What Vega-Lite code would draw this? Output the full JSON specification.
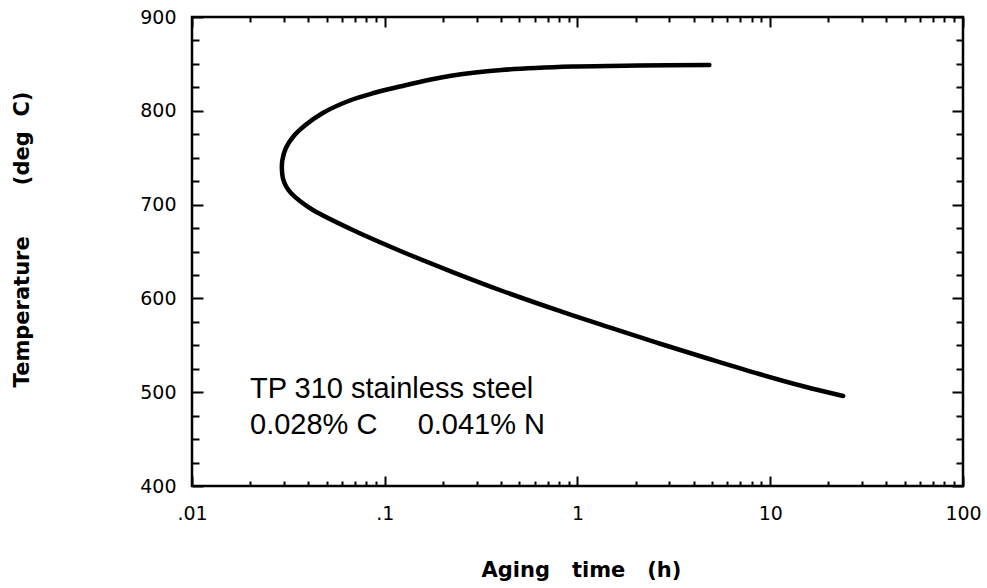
{
  "$schema": "https://vega.github.io/schema/vega-lite/v6.json",
  "width": 771,
  "height": 469,
  "autosize": {"type": "none"},
  "padding": {"left": 192, "top": 17, "right": 24, "bottom": 102},
  "background": "white",
  "config": {
    "view": {"stroke": "black", "strokeWidth": 2.5},
    "axis": {
      "grid": false,
      "domain": false,
      "tickColor": "black",
      "tickWidth": 2,
      "labelColor": "black",
      "labelFont": "DejaVu Sans",
      "labelFontSize": 19,
      "titleColor": "black",
      "titleFont": "DejaVu Sans",
      "titleFontWeight": "bold",
      "titleFontSize": 21
    }
  },
  "data": {
    "values": [
      {"i": 1, "t": 4.83, "T": 848.8},
      {"i": 2, "t": 2.09, "T": 848.3},
      {"i": 3, "t": 0.942, "T": 847.2},
      {"i": 4, "t": 0.404, "T": 843.5},
      {"i": 5, "t": 0.217, "T": 837.1},
      {"i": 6, "t": 0.1197, "T": 825.9},
      {"i": 7, "t": 0.0887, "T": 819.2},
      {"i": 8, "t": 0.0659, "T": 811.0},
      {"i": 9, "t": 0.0477, "T": 797.7},
      {"i": 10, "t": 0.0385, "T": 784.3},
      {"i": 11, "t": 0.0334, "T": 772.1},
      {"i": 12, "t": 0.0307, "T": 760.3},
      {"i": 13, "t": 0.02943, "T": 747.5},
      {"i": 14, "t": 0.02925, "T": 739.0},
      {"i": 15, "t": 0.0296, "T": 728.4},
      {"i": 16, "t": 0.0307, "T": 719.8},
      {"i": 17, "t": 0.0326, "T": 712.4},
      {"i": 18, "t": 0.0363, "T": 703.8},
      {"i": 19, "t": 0.0424, "T": 694.2},
      {"i": 20, "t": 0.0682, "T": 672.9},
      {"i": 21, "t": 0.124, "T": 649.5},
      {"i": 22, "t": 0.225, "T": 628.1},
      {"i": 23, "t": 0.408, "T": 607.9},
      {"i": 24, "t": 0.807, "T": 586.6},
      {"i": 25, "t": 1.466, "T": 569.0},
      {"i": 26, "t": 2.66, "T": 551.9},
      {"i": 27, "t": 4.83, "T": 535.4},
      {"i": 28, "t": 8.77, "T": 519.4},
      {"i": 29, "t": 15.0, "T": 506.1},
      {"i": 30, "t": 23.9, "T": 496.0}
    ]
  },
  "resolve": {
    "scale": {"x": "shared", "y": "shared"},
    "axis": {"x": "independent", "y": "independent"}
  },
  "layer": [
    {
      "mark": {"type": "line", "color": "black", "strokeWidth": 4.5, "interpolate": "catmull-rom", "strokeCap": "round", "strokeJoin": "round"},
      "encoding": {
        "x": {
          "field": "t", "type": "quantitative",
          "scale": {"type": "log", "domain": [0.01, 100], "nice": false},
          "axis": {
            "orient": "bottom", "ticks": false, "values": [0.01, 0.1, 1, 10, 100],
            "labelExpr": "datum.value == 0.01 ? '.01' : datum.value == 0.1 ? '.1' : format(datum.value, 'd')",
            "labelPadding": 18, "labelFlush": false,
            "title": "Aging\u00a0\u00a0\u00a0time\u00a0\u00a0\u00a0(h)",
            "titleX": 389, "titleY": 84, "titleBaseline": "middle", "titleAlign": "center"
          }
        },
        "y": {
          "field": "T", "type": "quantitative",
          "scale": {"domain": [400, 900], "nice": false, "zero": false},
          "axis": {
            "orient": "left", "ticks": false, "values": [400, 500, 600, 700, 800, 900],
            "labelPadding": 16, "labelFlush": false,
            "title": "Temperature\u00a0\u00a0\u00a0\u00a0\u00a0\u00a0\u00a0(deg\u00a0\u00a0C)",
            "titleX": -170, "titleY": 222, "titleAngle": 270, "titleBaseline": "middle", "titleAlign": "center"
          }
        },
        "order": {"field": "i", "type": "quantitative"}
      }
    },
    {
      "mark": {"type": "point", "opacity": 0},
      "encoding": {
        "x": {"field": "t", "type": "quantitative", "axis": {"orient": "bottom", "labels": false, "title": null, "tickSize": -10, "values": [0.01, 0.1, 1, 10, 100]}},
        "y": {"field": "T", "type": "quantitative", "axis": {"orient": "left", "labels": false, "title": null, "tickSize": -11, "values": [400, 500, 600, 700, 800, 900]}}
      }
    },
    {
      "mark": {"type": "point", "opacity": 0},
      "encoding": {
        "x": {"field": "t", "type": "quantitative", "axis": {"orient": "bottom", "labels": false, "title": null, "tickSize": -5, "values": [0.02, 0.03, 0.04, 0.05, 0.06, 0.07, 0.08, 0.09, 0.2, 0.3, 0.4, 0.5, 0.6, 0.7, 0.8, 0.9, 2, 3, 4, 5, 6, 7, 8, 9, 20, 30, 40, 50, 60, 70, 80, 90]}},
        "y": {"field": "T", "type": "quantitative", "axis": {"orient": "left", "labels": false, "title": null, "tickSize": -7, "values": [425, 450, 475, 525, 550, 575, 625, 650, 675, 725, 750, 775, 825, 850, 875]}}
      }
    },
    {
      "mark": {"type": "point", "opacity": 0},
      "encoding": {
        "x": {"field": "t", "type": "quantitative", "axis": {"orient": "top", "labels": false, "title": null, "tickSize": -10, "values": [0.01, 0.1, 1, 10, 100]}},
        "y": {"field": "T", "type": "quantitative", "axis": {"orient": "right", "labels": false, "title": null, "tickSize": -11, "values": [400, 500, 600, 700, 800, 900]}}
      }
    },
    {
      "mark": {"type": "point", "opacity": 0},
      "encoding": {
        "x": {"field": "t", "type": "quantitative", "axis": {"orient": "top", "labels": false, "title": null, "tickSize": -5, "values": [0.02, 0.03, 0.04, 0.05, 0.06, 0.07, 0.08, 0.09, 0.2, 0.3, 0.4, 0.5, 0.6, 0.7, 0.8, 0.9, 2, 3, 4, 5, 6, 7, 8, 9, 20, 30, 40, 50, 60, 70, 80, 90]}},
        "y": {"field": "T", "type": "quantitative", "axis": {"orient": "right", "labels": false, "title": null, "tickSize": -7, "values": [425, 450, 475, 525, 550, 575, 625, 650, 675, 725, 750, 775, 825, 850, 875]}}
      }
    },
    {
      "data": {
        "values": [
          {"t": 0.02, "T": 494, "label": "TP 310 stainless steel"},
          {"t": 0.02, "T": 455, "label": "0.028% C\u00a0\u00a0\u00a0\u00a0\u00a00.041% N"}
        ]
      },
      "mark": {"type": "text", "align": "left", "baseline": "alphabetic", "font": "Liberation Sans", "fontSize": 29, "color": "black"},
      "encoding": {
        "x": {"field": "t", "type": "quantitative", "axis": null},
        "y": {"field": "T", "type": "quantitative", "axis": null},
        "text": {"field": "label"}
      }
    }
  ]
}
